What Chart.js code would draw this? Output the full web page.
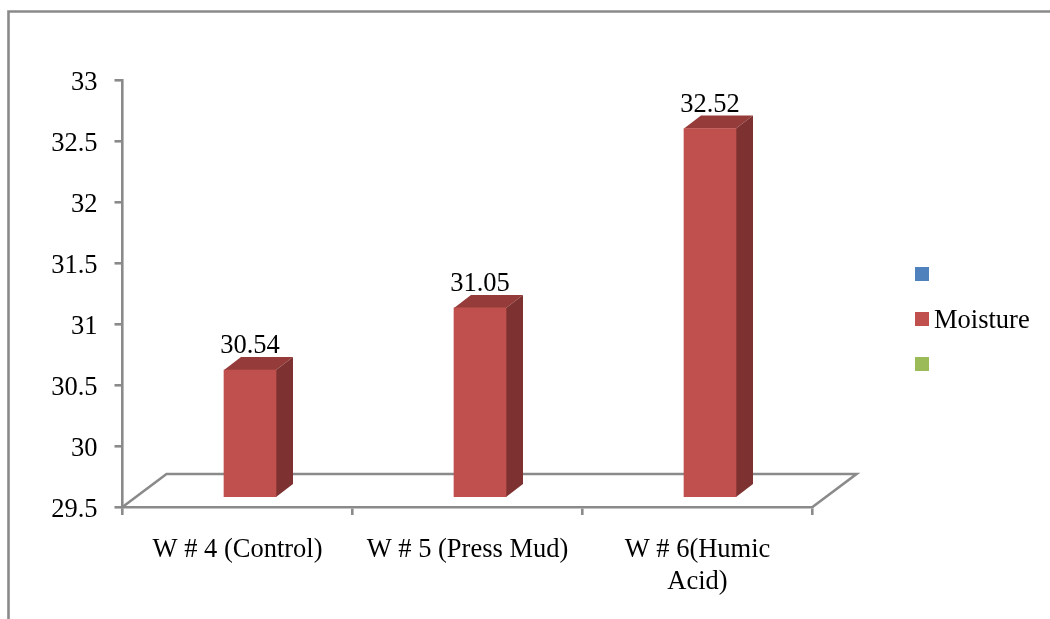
<!DOCTYPE html>
<html>
<head>
<meta charset="utf-8">
<script src="https://cdn.jsdelivr.net/npm/chart.js@4"></script>
<style>
  html, body { margin: 0; padding: 0; background: #fff; }
  canvas { display: block; }
</style>
</head>
<body>
<canvas id="myChart" width="1050" height="619"></canvas>
<script>
const categorias = ['W # 4 (Control)', 'W # 5 (Press Mud)', ['W # 6(Humic', 'Acid)']]
const moisture = [30.54, 31.05, 32.52]
const serieAzul = []
const serieVerde = []
const yMin = 29.5
const yMax = 33
const yStep = 0.5

const fuente = '"Liberation Serif", "Times New Roman", serif'
const gris = '#8a8a8a'
const grosor = 2.6
// 3D look of the original: depth of the box, and how far the bars sit from the axis
const fondoX = 17, fondoY = 13
const sueloX = 44, sueloY = 33
const moverX = 12.5, moverY = 10

const efecto3d = {
  id: 'efecto3d',
  beforeDraw(chart) {
    // outer frame, only top and left are visible
    const c = chart.ctx
    c.save()
    c.strokeStyle = gris
    c.lineWidth = grosor
    c.beginPath()
    c.moveTo(8.5, chart.height)
    c.lineTo(8.5, 11.5)
    c.lineTo(chart.width, 11.5)
    c.stroke()
    c.restore()
  },
  beforeDatasetsDraw(chart) {
    // the floor
    const c = chart.ctx
    const a = chart.chartArea
    c.save()
    c.strokeStyle = gris
    c.lineWidth = grosor
    c.beginPath()
    c.moveTo(a.left, a.bottom)
    c.lineTo(a.left + sueloX, a.bottom - sueloY)
    c.lineTo(a.right + sueloX, a.bottom - sueloY)
    c.lineTo(a.right, a.bottom)
    c.stroke()
    c.restore()
  },
  beforeDatasetDraw(chart, args) {
    const c = chart.ctx
    const abajo = chart.chartArea.bottom
    c.save()
    c.translate(moverX, -moverY)
    args.meta.data.forEach(b => {
      const izq = b.x - b.width / 2
      const der = b.x + b.width / 2
      c.fillStyle = '#953c3a'
      c.beginPath()
      c.moveTo(izq, b.y)
      c.lineTo(izq + fondoX, b.y - fondoY)
      c.lineTo(der + fondoX, b.y - fondoY)
      c.lineTo(der, b.y)
      c.closePath()
      c.fill()
      c.fillStyle = '#7d3231'
      c.beginPath()
      c.moveTo(der, b.y)
      c.lineTo(der + fondoX, b.y - fondoY)
      c.lineTo(der + fondoX, abajo - fondoY)
      c.lineTo(der, abajo)
      c.closePath()
      c.fill()
    })
  },
  afterDatasetDraw(chart, args) {
    const c = chart.ctx
    const valores = chart.data.datasets[args.index].data
    c.fillStyle = '#000'
    c.font = '26.5px ' + fuente
    c.textAlign = 'center'
    c.textBaseline = 'alphabetic'
    args.meta.data.forEach((b, i) => {
      c.fillText(valores[i].toFixed(2), b.x, b.y - fondoY - 4)
    })
    c.restore()
  },
  afterDraw(chart) {
    // legend, the text sits closer to the box than the built in one allows
    const c = chart.ctx
    c.save()
    c.font = '26.5px ' + fuente
    c.textBaseline = 'alphabetic'
    chart.data.datasets.forEach((d, i) => {
      const y = 267 + i * 45
      c.fillStyle = d.backgroundColor
      c.fillRect(915, y, 14, 14)
      c.fillStyle = '#000'
      c.fillText(d.label, 934, y + 16)
    })
    c.restore()
  }
}

const ctx = document.getElementById('myChart')

new Chart(ctx, {
  type: 'bar',
  data: {
    labels: categorias,
    datasets: [
      { label: '', data: serieAzul, backgroundColor: '#4f81bd', grouped: false },
      { label: 'Moisture', data: moisture, backgroundColor: '#c0504d', grouped: false, barThickness: 52 },
      { label: '', data: serieVerde, backgroundColor: '#9bbb59', grouped: false }
    ]
  },
  options: {
    responsive: false,
    animation: false,
    layout: { padding: { top: 80, left: 0, right: 237.5, bottom: 0 } },
    plugins: {
      tooltip: { enabled: false },
      legend: { display: false }
    },
    scales: {
      x: {
        afterFit(s) { s.height = 112 },
        grid: { drawOnChartArea: false, color: gris, lineWidth: grosor, tickLength: 8 },
        border: { color: gris, width: grosor },
        ticks: { color: '#000', padding: 19, maxRotation: 0, font: { family: fuente, size: 26.5 } }
      },
      y: {
        min: yMin,
        max: yMax,
        afterFit(s) { s.width = 122.5 },
        grid: { drawOnChartArea: false, color: gris, lineWidth: grosor, tickLength: 8 },
        border: { color: gris, width: grosor },
        ticks: {
          stepSize: yStep,
          color: '#000',
          padding: 17,
          labelOffset: 3,
          font: { family: fuente, size: 26.5 },
          callback: v => String(v)
        }
      }
    }
  },
  plugins: [efecto3d]
})
</script>
</body>
</html>
